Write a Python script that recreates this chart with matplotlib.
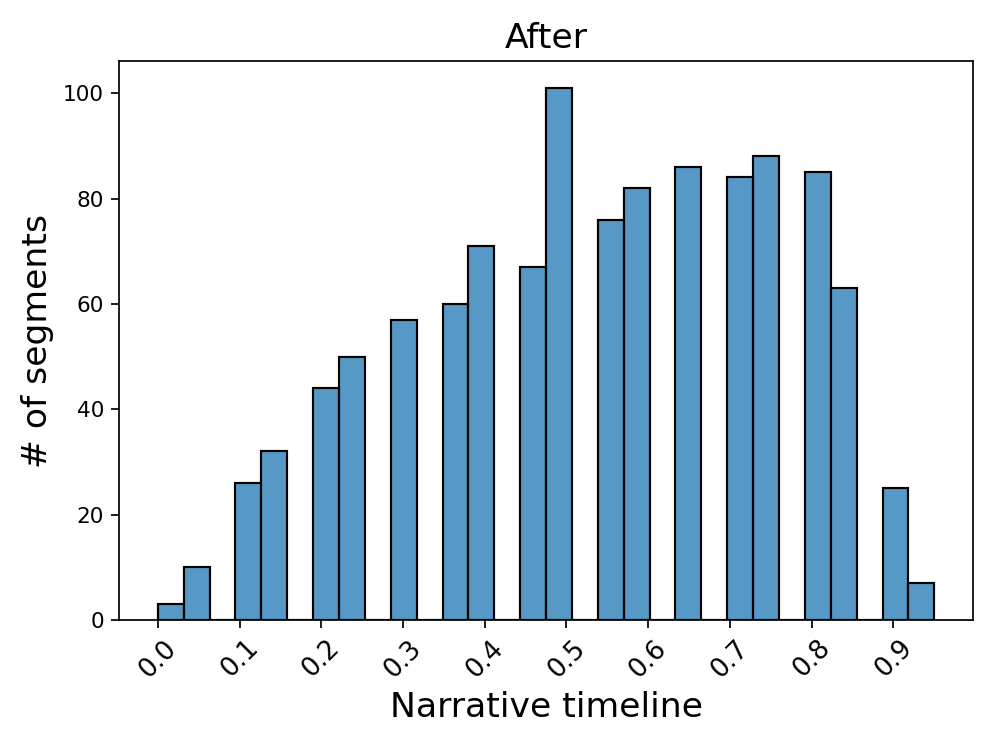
import numpy as np
import matplotlib
matplotlib.use("Agg")
import matplotlib.pyplot as plt
import seaborn as sns

# Narrative position of each segment (binned in steps of 0.05) and how many segments sit there
positions = [0.0, 0.05, 0.1, 0.15, 0.2, 0.25, 0.3, 0.35, 0.4, 0.45,
             0.5, 0.55, 0.6, 0.65, 0.7, 0.75, 0.8, 0.85, 0.9, 0.95]
counts = [3, 10, 26, 32, 44, 50, 57, 60, 71, 67,
          101, 76, 82, 86, 84, 88, 85, 63, 25, 7]
xticks = [0.0, 0.1, 0.2, 0.3, 0.4, 0.5, 0.6, 0.7, 0.8, 0.9]

fig, ax = plt.subplots(figsize=(6.4, 4.8), dpi=155.625)
fig.subplots_adjust(left=0.1195, right=0.977, top=0.918, bottom=0.170)

sns.histplot(x=positions, weights=counts, bins=30, ax=ax,
             color="#1f77b4", alpha=0.75, edgecolor="black", linewidth=1)

ax.set_title("After", fontsize=16)
ax.set_xlabel("Narrative timeline", fontsize=16)
ax.set_ylabel("# of segments", fontsize=16)
ax.set_xticks(xticks)
ax.set_xticklabels([f"{t:.1f}" for t in xticks], rotation=45, fontsize=12)
ax.tick_params(axis="y", labelsize=10)

fig.savefig("out.png", dpi=155.625)
